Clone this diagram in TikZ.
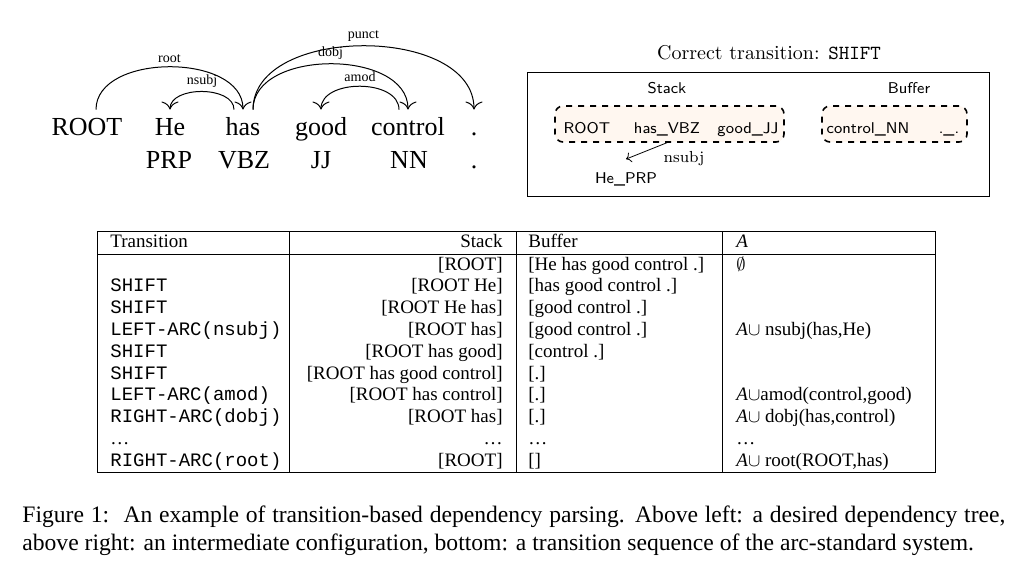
\documentclass[tikz,border=0pt]{standalone}
\usepackage{fontspec}
\newfontfamily\timesfont{Liberation Serif}
\newfontfamily\courfont{Liberation Mono}
\usetikzlibrary{arrows.meta}

\begin{document}
\begin{tikzpicture}[x=0.5pt, y=-0.5pt,
  word/.style={font=\timesfont\fontsize{13}{15}\selectfont, anchor=base, inner xsep=0pt, inner ysep=3.5pt, text height=9pt, text depth=2.5pt},
  deparc/.style={-{To[scale=1.5]}, line width=0.5pt},
  lab/.style={font=\timesfont\fontsize{7}{8}\selectfont, above, inner sep=2pt},
  sword/.style={font=\sffamily\fontsize{7.8}{9}\selectfont, anchor=base},
  dbox/.style={draw, dashed, thick, rounded corners=4pt, fill=orange!6, minimum height=18pt},
  tcell/.style={font=\timesfont\fontsize{9.5}{11}\selectfont, inner sep=0pt}]
  \useasboundingbox (0,0) rectangle (1020,567);

  % dependency tree
  \node[word] (root) at (87,135) {ROOT};
  \node[word] (he) at (170,135) {He};
  \node[word] (has) at (243,135) {has};
  \node[word] (good) at (321,135) {good};
  \node[word] (control) at (408,135) {control};
  \node[word] (dot) at (474,135) {.};
  \node[word] (prp) at (169,168) {PRP};
  \node[word] (vbz) at (244,168) {VBZ};
  \node[word] (jj) at (321,168) {JJ};
  \node[word] (nn) at (409,168) {NN};
  \node[word] (dottag) at (474,168) {.};
  \draw[deparc] ([xshift=4.5pt]root.north) .. controls +(0,-57) and +(0,-57) .. (has.north) node[lab, midway] {root};
  \draw[deparc] ([xshift=-4.5pt]has.north) .. controls +(0,-24) and +(0,-24) .. (he.north) node[lab, midway] {nsubj};
  \draw[deparc] ([xshift=5pt]has.north) .. controls +(0,-61) and +(0,-61) .. (control.north) node[lab, midway] {dobj};
  \draw[deparc] ([xshift=5pt]has.north) .. controls +(0,-85) and +(0,-85) .. (dot.north) node[lab, midway] {punct};
  \draw[deparc] ([xshift=-4.5pt]control.north) .. controls +(0,-31) and +(0,-31) .. (good.north) node[lab, midway] {amod};

  % configuration
  \node[font=\fontsize{10}{12}\selectfont, anchor=base] (title) at (769,60) {Correct transition: \texttt{SHIFT}};
  \draw (527,72) rectangle (989,196);
  \node[sword] (stacklab) at (667,93) {Stack};
  \node[sword] (buflab) at (909,93) {Buffer};
  \node[dbox, minimum width=114.5pt] (stack) at (669.5,124) {};
  \node[dbox, minimum width=72.5pt] (buffer) at (894.5,124) {};
  \node[sword] (sroot) at (587,133) {ROOT};
  \node[sword] (hasvbz) at (667,133) {has\_VBZ};
  \node[sword] (goodjj) at (748,133) {good\_JJ};
  \node[sword] (controlnn) at (868,133) {control\_NN};
  \node[sword] (dotdot) at (949,133) {.\_.};
  \node[sword] (heprp) at (626,183) {He\_PRP};
  \draw[->] (hasvbz.south) -- ([yshift=3pt]heprp.north);
  \node[font=\fontsize{8}{10}\selectfont, anchor=base] (nsubjlab) at (684,162) {nsubj};

  % transition sequence
  \draw (97,231) rectangle (935,472);
  \draw (97,254) -- (935,254);
  \draw (289,231) -- (289,472);
  \draw (516,231) -- (516,472);
  \draw (722,231) -- (722,472);
  \node[tcell, anchor=base west] (htr) at (110,247) {Transition};
  \node[tcell, anchor=base east] (hst) at (503,247) {Stack};
  \node[tcell, anchor=base west] (hbu) at (528,247) {Buffer};
  \node[tcell, anchor=base west] (hac) at (736,247) {\itshape A};
  \foreach \trn/\stk/\buf/\aset [count=\r] in {
      {}/[ROOT]/[He has good control .]/{$\emptyset$},
      SHIFT/[ROOT He]/[has good control .]/{},
      SHIFT/[ROOT He has]/[good control .]/{},
      LEFT-ARC(nsubj)/[ROOT has]/[good control .]/{{\itshape A}$\cup$ nsubj(has,He)},
      SHIFT/[ROOT has good]/[control .]/{},
      SHIFT/[ROOT has good control]/[.]/{},
      LEFT-ARC(amod)/[ROOT has control]/[.]/{{\itshape A}$\cup$amod(control,good)},
      RIGHT-ARC(dobj)/[ROOT has]/[.]/{{\itshape A}$\cup$ dobj(has,control)},
      {\timesfont\dots}/\dots/\dots/\dots,
      RIGHT-ARC(root)/[ROOT]/[]/{{\itshape A}$\cup$ root(ROOT,has)}} {
    \node[tcell, anchor=base west, font=\courfont\fontsize{9.5}{11}\selectfont] (tr\r) at (110,{248.2+21.8*\r}) {\trn};
    \node[tcell, anchor=base east] (st\r) at (503,{248.2+21.8*\r}) {\stk};
    \node[tcell, anchor=base west] (bu\r) at (528,{248.2+21.8*\r}) {\buf};
    \node[tcell, anchor=base west] (ac\r) at (736,{248.2+21.8*\r}) {\aset};
  }

  % caption
  \node[anchor=base west, text width=491.5pt, align=justify, inner sep=0pt, font=\timesfont\fontsize{11.8}{14}\selectfont] (caption) at (22,522)
    {Figure 1:\hspace{0.2em} An example of transition-based dependency parsing. Above left: a desired dependency tree,\linebreak above right: an intermediate configuration, bottom: a transition sequence of the arc-standard system.};
\end{tikzpicture}
\end{document}
